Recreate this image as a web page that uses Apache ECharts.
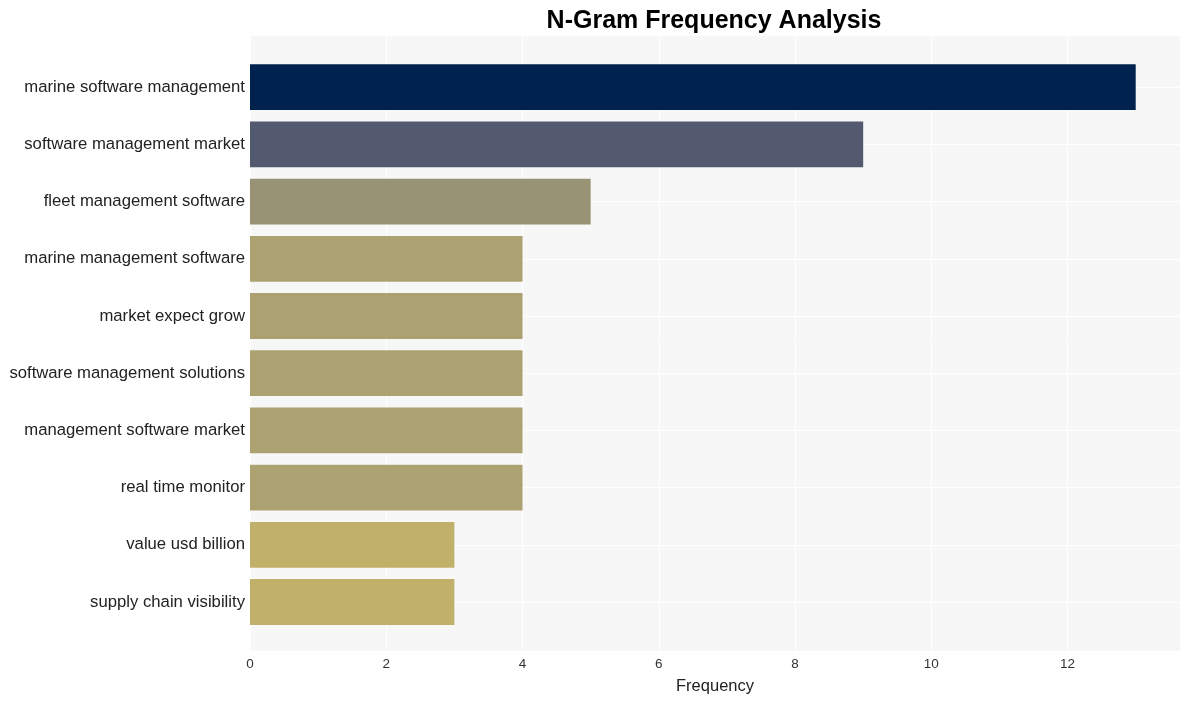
<!DOCTYPE html>
<html><head><meta charset="utf-8">
<script src="https://cdn.jsdelivr.net/npm/echarts@6/dist/echarts.min.js"></script>
<style>html,body{margin:0;padding:0;background:#fff}#c{width:1189px;height:701px}</style>
</head><body><div id="c"></div>
<script>
const categories = ["marine software management","software management market","fleet management software","marine management software","market expect grow","software management solutions","management software market","real time monitor","value usd billion","supply chain visibility"];
const values = [13,9,5,4,4,4,4,4,3,3];
const barColors = ["#00224e","#535a6f","#989374","#aca171","#aca171","#aca171","#aca171","#aca171","#c1b06a","#c1b06a"];
const xTicks = [0,2,4,6,8,10,12];
const FONT = "'Liberation Sans', Arial, sans-serif";
const chart = echarts.init(document.getElementById('c'));
chart.setOption({
  animation:false,
  title:{text:"N-Gram Frequency Analysis",left:709,top:4,textAlign:'center',textStyle:{fontFamily:FONT,fontWeight:'bold',fontSize:25,color:'#000'}},
  grid:[
    {left:250,top:36,width:930,height:615,backgroundColor:'#f7f7f7',show:true,borderWidth:0},
    {left:250,top:58.6,width:930,height:572},
    {left:250,top:87.2,width:930,height:514.8}
  ],
  xAxis:[
    {gridIndex:0,type:'value',min:0,max:13.65,interval:2,
     axisLine:{show:false},axisTick:{show:false},
     axisLabel:{fontFamily:FONT,fontSize:13.5,color:'#333',margin:6,
       formatter:v=>xTicks.includes(v)?String(v):''},
     splitLine:{show:true,lineStyle:{color:'#ffffff',width:1}},
     name:'Frequency',nameLocation:'middle',nameGap:27,nameTextStyle:{fontFamily:FONT,fontSize:16.5,color:'#222'}},
    {gridIndex:1,type:'value',min:0,max:13.65,show:false},
    {gridIndex:2,type:'value',min:0,max:13.65,show:false}
  ],
  yAxis:[
    {gridIndex:0,type:'category',data:categories,show:false},
    {gridIndex:1,type:'category',data:categories,inverse:true,
     axisLine:{show:false},axisTick:{show:false},splitLine:{show:false},
     axisLabel:{fontFamily:FONT,fontSize:16.7,color:'#222',margin:5,lineHeight:20,padding:[2,0,0,0]}},
    {gridIndex:2,type:'category',data:categories,inverse:true,boundaryGap:false,
     axisLine:{show:false},axisTick:{show:false},axisLabel:{show:false},
     splitLine:{show:true,lineStyle:{color:'#ffffff',width:1}}}
  ],
  series:[
    {type:'bar',xAxisIndex:1,yAxisIndex:1,z:3,barWidth:'80%',
     data:values.map((v,i)=>({value:v,itemStyle:{color:barColors[i]}}))}
  ]
});
</script></body></html>
